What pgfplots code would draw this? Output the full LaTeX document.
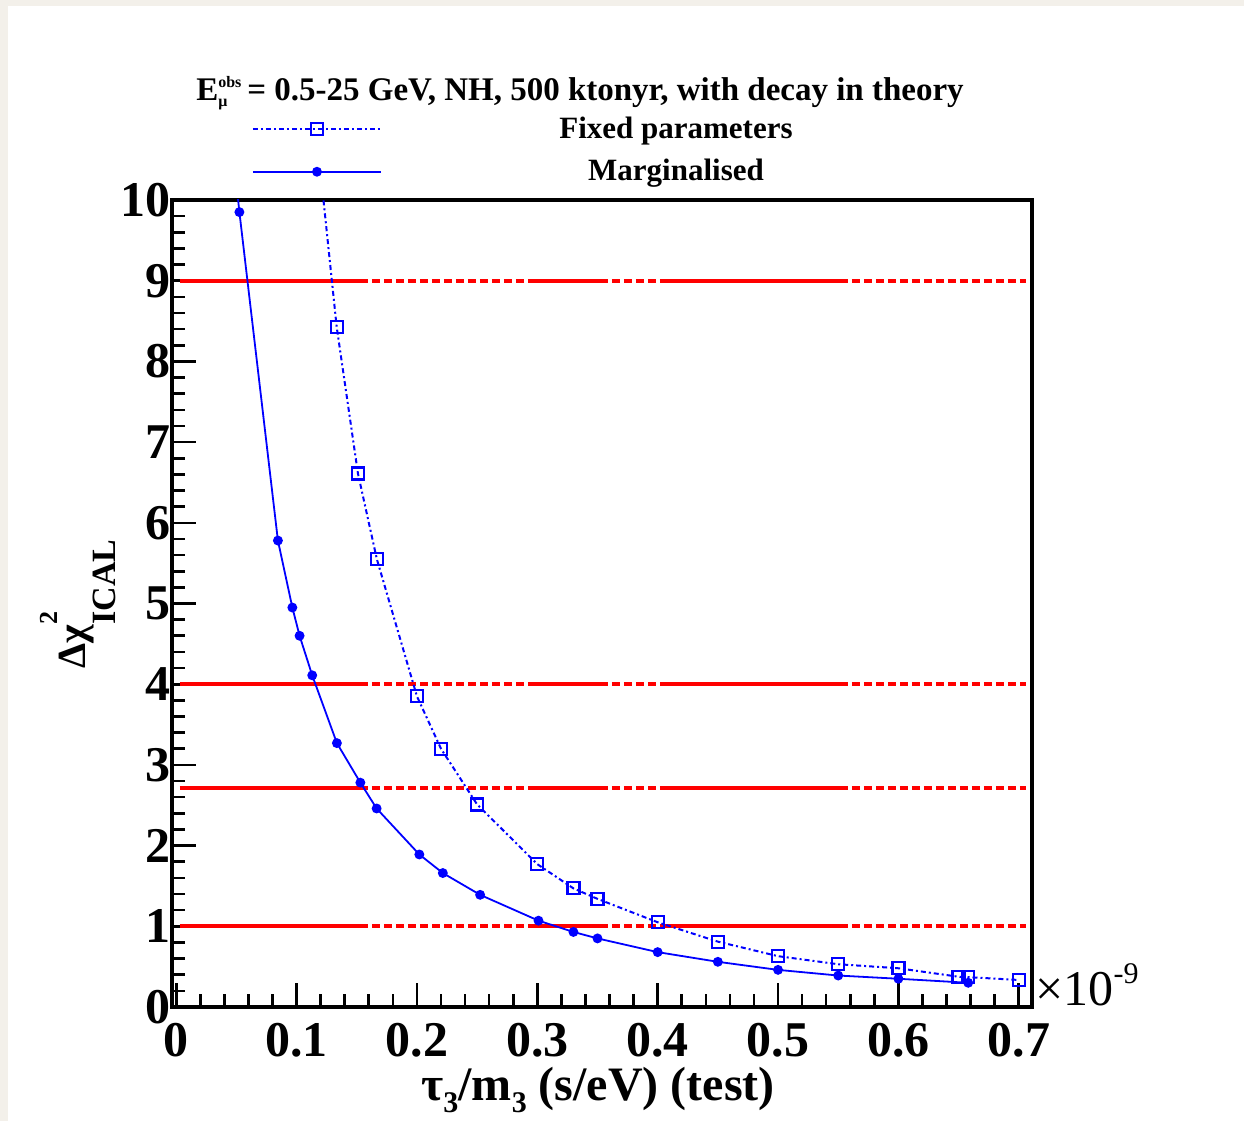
\documentclass[border=0pt]{standalone}
\usepackage{pgfplots}
\pgfplotsset{compat=1.18}
\usepackage{pgfplotstable}
\usepackage{fontspec}
\setmainfont{Liberation Serif}

\definecolor{bgstrip}{RGB}{243,240,234}
\definecolor{rblue}{RGB}{0,0,255}
\definecolor{rred}{RGB}{255,0,0}

\pgfplotsset{longlegend/.style={legend image code/.code={\draw[mark repeat=2,mark phase=2,##1] plot coordinates {(0pt,0pt) (32pt,0pt) (64pt,0pt)};}}}

\pgfplotstableread{
x y
0.1000 13.2
0.1333 8.43
0.1510 6.61
0.1667 5.55
0.2000 3.85
0.2200 3.20
0.2500 2.51
0.3000 1.77
0.3300 1.47
0.3500 1.34
0.4000 1.05
0.4500 0.81
0.5000 0.63
0.5500 0.53
0.6000 0.48
0.6500 0.375
0.6580 0.37
0.7000 0.335
}\fixedtab

\pgfplotstableread{
x y
0.0400 11.6
0.0525 9.85
0.0845 5.78
0.0965 4.95
0.1025 4.60
0.1130 4.11
0.1335 3.27
0.1530 2.78
0.1665 2.46
0.2020 1.89
0.2215 1.66
0.2525 1.39
0.3010 1.07
0.3300 0.93
0.3500 0.85
0.4000 0.68
0.4500 0.56
0.5000 0.46
0.5500 0.39
0.6000 0.35
0.6580 0.30
}\margtab

\begin{document}
\begin{tikzpicture}
\useasboundingbox (0,0) rectangle (622pt,560.5pt);
\fill[bgstrip] (0,0) rectangle (4pt,560.5pt);
\fill[bgstrip] (0,557.5pt) rectangle (622pt,560.5pt);
\begin{axis}[
  at={(86pt,57pt)}, anchor=south west,
  scale only axis, width=430pt, height=403.5pt,
  xmin=-0.0035, xmax=0.711, ymin=0, ymax=10,
  axis line style={line width=1.6pt},
  xtick={0,0.1,...,0.7}, ytick={0,1,...,10},
  minor x tick num=4, minor y tick num=4,
  xtick pos=left, ytick pos=left,
  tick align=inside,
  major tick length=12pt, minor tick length=6.5pt,
  every tick/.style={black, line width=1.3pt},
  scaled x ticks=false,
  /pgf/number format/assume math mode=true,
  /pgf/number format/fixed,
  ticklabel style={font=\fontsize{25}{25}\selectfont\bfseries},
  yticklabel style={xshift=3pt},
  xticklabel style={yshift=-4.5pt},
  legend style={at={(axis description cs:0.093,1)}, anchor=south west,
    yshift=6pt, draw=none, fill=none, inner sep=0pt, outer sep=0pt,
    row sep=5pt, column sep=5pt,
    font=\fontsize{15.5}{17}\selectfont\bfseries},
  legend cell align=left,
]
\pgfplotsinvokeforeach{1,2.71,4,9}{
  \addplot[rred, line width=2pt, dash pattern=on 4pt off 2pt, forget plot] coordinates {(0.003,#1) (0.706,#1)};
  \addplot[rred, line width=2pt, forget plot] coordinates {(0.003,#1) (0.158,#1)};
  \addplot[rred, line width=2pt, forget plot] coordinates {(0.294,#1) (0.357,#1)};
  \addplot[rred, line width=2pt, forget plot] coordinates {(0.402,#1) (0.553,#1)};
}
\addplot[rblue, line width=1pt, dash pattern=on 2.5pt off 1.5pt on 1pt off 1.5pt,
  mark=square, mark size=3pt, mark options={solid, line width=1.1pt}, longlegend]
  table {\fixedtab};
\addlegendentry{\makebox[280pt][c]{Fixed parameters}}
\addplot[rblue, line width=0.9pt, mark=*, mark size=2pt, longlegend]
  table {\margtab};
\addlegendentry{\makebox[280pt][c]{Marginalised}}
\end{axis}
\node[anchor=base, font=\fontsize{16.5}{18}\selectfont\bfseries] at (290pt,510pt)
  {E\rlap{\raisebox{6.5pt}{\fontsize{8}{8}\selectfont obs}}\raisebox{-3pt}{\fontsize{8}{8}\selectfont μ}\hspace{10pt}= 0.5-25 GeV, NH, 500 ktonyr, with decay in theory};
\node[anchor=base, rotate=90, font=\fontsize{20}{20}\selectfont\bfseries] at (42.5pt,258.5pt)
  {Δχ\rlap{\raisebox{14pt}{\fontsize{13}{13}\selectfont 2}}\raisebox{-15pt}{\fontsize{17}{17}\selectfont ICAL}};
\node[anchor=base, inner sep=0pt, font=\fontsize{24}{24}\selectfont\bfseries] at (299pt,10.5pt)
  {τ\raisebox{-6pt}{\fontsize{15}{15}\selectfont 3}/m\raisebox{-6pt}{\fontsize{15}{15}\selectfont 3} (s/eV) (test)};
\node[anchor=base west, font=\fontsize{25}{25}\selectfont, inner sep=0pt] at (517.5pt,58pt)
  {×10\raisebox{11pt}{\fontsize{15}{15}\selectfont -9}};
\end{tikzpicture}
\end{document}
